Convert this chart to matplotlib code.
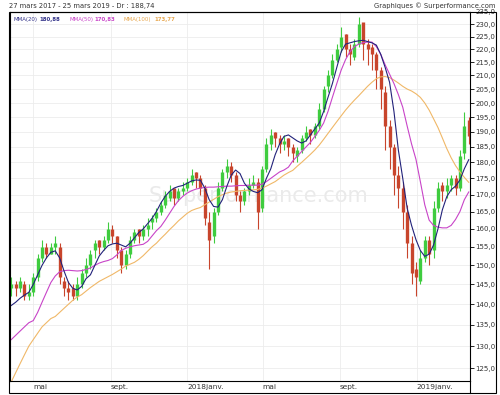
import numpy as np
import pandas as pd
import matplotlib
matplotlib.use('Agg')
import matplotlib.pyplot as plt
from matplotlib.patches import Rectangle
from matplotlib.lines import Line2D
from matplotlib.ticker import FixedLocator, FuncFormatter, NullLocator

# weekly bars, 27 mars 2017 -> 25 mars 2019
weeks = pd.date_range('2017-03-27', '2019-03-25', freq='W-MON')

opens = [144, 145, 144, 145, 142, 143, 147, 152, 155, 153,
         155, 155, 146, 144, 144, 142, 145, 148, 150, 154,
         157, 155, 157, 160, 158, 154, 150, 153, 157, 160,
         158, 160, 162, 163, 165, 167, 169, 172, 169, 171,
         172, 174, 177, 175, 172, 162, 158, 165, 172, 177,
         179, 176, 170, 168, 171, 173, 174, 166, 178, 186,
         190, 188, 186, 188, 185, 182, 184, 188, 191, 189,
         192, 198, 206, 210, 216, 221, 226, 220, 217, 222,
         231, 222, 221, 218, 212, 204, 192, 185, 176, 172,
         165, 156, 149, 146, 152, 157, 154, 166, 173, 171,
         173, 175, 172, 183, 194]
highs = [147, 146, 147, 146, 145, 148, 153, 157, 156, 156,
         158, 156, 147, 146, 145, 147, 149, 152, 154, 157,
         157, 158, 162, 161, 158, 155, 154, 158, 160, 160,
         161, 163, 164, 166, 168, 171, 173, 172, 172, 174,
         175, 178, 177, 176, 173, 165, 166, 174, 178, 181,
         180, 177, 171, 172, 175, 176, 175, 179, 188, 191,
         190, 189, 189, 188, 186, 185, 189, 192, 191, 193,
         200, 206, 212, 218, 222, 229, 226, 222, 224, 233,
         230, 224, 222, 219, 213, 206, 194, 186, 179, 174,
         167, 158, 151, 154, 158, 158, 168, 174, 174, 175,
         176, 176, 184, 197, 195]
lows = [142, 142, 143, 141, 141, 142, 146, 151, 152, 153,
        153, 145, 142, 141, 141, 141, 144, 147, 149, 152,
        153, 154, 156, 156, 152, 148, 149, 152, 156, 156,
        157, 158, 160, 162, 164, 166, 168, 167, 168, 170,
        171, 173, 172, 170, 161, 149, 156, 164, 171, 175,
        174, 168, 165, 167, 170, 172, 160, 165, 177, 184,
        185, 183, 184, 182, 180, 180, 183, 187, 186, 188,
        191, 197, 204, 209, 215, 219, 217, 214, 216, 221,
        216, 214, 212, 205, 198, 184, 178, 170, 166, 160,
        152, 145, 142, 145, 151, 150, 152, 165, 168, 169,
        171, 170, 171, 181, 186]
closes = [145, 144, 146, 142, 143, 147, 152, 155, 153, 155,
          156, 147, 144, 143, 142, 145, 148, 150, 153, 156,
          155, 157, 160, 158, 154, 150, 153, 157, 159, 158,
          160, 161, 163, 165, 167, 170, 171, 169, 171, 172,
          174, 176, 175, 172, 163, 157, 165, 172, 177, 179,
          176, 170, 168, 171, 173, 174, 165, 178, 186, 189,
          188, 186, 187, 185, 183, 184, 188, 190, 189, 192,
          198, 205, 210, 216, 220, 225, 220, 218, 222, 230,
          222, 220, 218, 212, 205, 192, 185, 176, 172, 165,
          156, 148, 147, 152, 157, 153, 166, 172, 171, 173,
          175, 172, 182, 192, 188.74]

mma20 = [139.7, 140.5, 141.5, 142.3, 143, 145, 147.5, 150, 152, 153.5,
         153.9, 152, 148.5, 145.5, 144, 143.6, 144.5, 146.5, 147.5, 150,
         152.5, 154, 155.3, 155.8, 156, 155.5, 155, 156, 157.5, 159,
         160, 161.5, 163, 165, 167.5, 169.5, 171, 172, 172.5, 172.8,
         173.5, 174.2, 174.5, 174.4, 172, 168.5, 166.5, 166.3, 168.5, 172.5,
         176, 177.6, 176.5, 173.5, 171.8, 171, 170.6, 171.5, 175, 178,
         182.5, 186, 188.5, 189, 188, 187, 186.3, 187, 189, 191,
         193, 197, 202, 207, 213, 219, 222, 222.5, 223, 223.3,
         223.5, 223, 222.5, 221.6, 218, 213, 207.5, 197, 184, 175,
         166, 161, 157, 154, 152.4, 153, 155.5, 160, 165.5, 169.4,
         171.5, 172.6, 174.5, 178, 180.88]
mma50 = [131.5, 132.5, 133.5, 134.5, 135.5, 136, 138, 140.5, 143, 145.5,
         147.2, 148.3, 148.6, 148.7, 148.6, 148.5, 148.6, 148.9, 149.3, 150,
         150.6, 151, 151.3, 151.8, 152.8, 154, 154.6, 155, 155.3, 155.5,
         155.7, 156.5, 158, 159.5, 160.7, 162.5, 164.5, 166.5, 168.2, 169.5,
         170.5, 171.2, 171.7, 172, 172.2, 172.3, 172.3, 172.4, 172.5, 172.6,
         172.6, 172.7, 172.8, 172.8, 172.9, 172.9, 172.9, 173.2, 174, 175,
         176, 177, 177.6, 178.5, 180.5, 182, 183.5, 185, 186.5, 188.5,
         190.5, 193, 197, 202, 207, 212, 216, 219, 221, 222,
         222.6, 222.8, 222.8, 221, 218, 214, 210.5, 207, 203, 198.5,
         192, 186, 181, 174, 167, 162.5, 161, 160.5, 160.3, 160.3,
         161, 162.7, 165, 168.5, 170.83]
mma100 = [122, 124, 126, 128, 130, 131.5, 133, 134.5, 135.5, 136.5,
          137, 138, 139, 140, 141, 141.8, 142.4, 143.3, 144.2, 145,
          145.8, 146.4, 147, 147.6, 148.3, 149, 149.8, 150.3, 150.8, 151.6,
          152.6, 153.8, 155, 156, 157.3, 158.5, 159.8, 161, 162.3, 163.4,
          164.5, 165.3, 165.8, 166.2, 167, 167.8, 168.6, 169.4, 170, 170.5,
          170.8, 171, 171.2, 171.3, 171.4, 171.5, 171.6, 172, 172.6, 173.3,
          174, 175, 176, 176.8, 177.5, 178.8, 180, 181.3, 182.6, 184,
          185.6, 187.5, 189.5, 191.5, 193.5, 195.5, 197.5, 199.3, 201, 202.6,
          204.3, 206, 207.5, 208.8, 209.5, 209.6, 209.2, 208.3, 207.2, 206,
          205, 204.3, 203.3, 202, 200, 197.5, 194.5, 191.5, 188, 184.5,
          181.5, 179, 177, 175.3, 173.77]

month_ticks = ['2017-05-01', '2017-09-01', '2018-01-01', '2018-05-01', '2018-09-01', '2019-01-01']
month_labels = ['mai', 'sept.', '2018janv.', 'mai', 'sept.', '2019janv.']
price_ticks = np.arange(125, 236, 5)

W, H = 500, 395
def box(x0, y0, x1, y1):
    return [x0 / W, 1 - y1 / H, (x1 - x0) / W, (y1 - y0) / H]

fig = plt.figure(figsize=(5, 3.95), dpi=100)
ax = fig.add_axes(box(10, 12, 470, 381))

opens = np.array(opens, float)
closes = np.array(closes, float)
up = closes >= opens
cols = np.where(up, '#3fcc3f', '#c8452c')
ax.vlines(weeks, lows, highs, colors=cols, lw=0.8)
ax.vlines(weeks, np.minimum(opens, closes), np.maximum(opens, closes), colors=cols, lw=2.4)

ax.plot(weeks, mma100, color='#f0b868', lw=0.8)
ax.plot(weeks, mma50, color='#c844c8', lw=0.8)
ax.plot(weeks, mma20, color='#22227a', lw=0.8)

ax.set_yscale('log')
ax.set_ylim(122.2, 235)
ax.set_xlim(pd.Timestamp('2017-03-25'), pd.Timestamp('2019-03-27'))

ax.yaxis.tick_right()
ax.yaxis.set_major_locator(FixedLocator(price_ticks))
ax.yaxis.set_major_formatter(FuncFormatter(lambda v, p: f'{v:.1f}'.replace('.', ',')))
ax.yaxis.set_minor_locator(NullLocator())
ax.tick_params(axis='y', direction='out', length=3, width=0.6, pad=1, labelsize=5, labelcolor='#333333')

ax.set_xticks(pd.to_datetime(month_ticks))
ax.set_xticklabels(month_labels, ha='left')
ax.tick_params(axis='x', length=0, pad=2.5, labelsize=5.3, labelcolor='#333333')

ax.grid(True, color='#ececec', lw=0.6)
ax.set_axisbelow(True)
for s in ax.spines.values():
    s.set_linewidth(0.8)

# watermark
ax.text(0.54, 0.5, 'Surperformance.com', transform=ax.transAxes, ha='center', va='center',
        fontsize=15, color='#eaeaea', zorder=0)

# legend line
leg_y = 1 - 19 / H
fig.text(13 / W, leg_y, 'MMA(20)', color='#33338a', fontsize=3.9, va='center')
fig.text(39 / W, leg_y, '180,88', color='#33338a', fontsize=3.9, va='center', weight='bold')
fig.text(69 / W, leg_y, 'MMA(50)', color='#c844c8', fontsize=3.9, va='center')
fig.text(94 / W, leg_y, '170,83', color='#c844c8', fontsize=3.9, va='center', weight='bold')
fig.text(124 / W, leg_y, 'MMA(100)', color='#e8a850', fontsize=3.9, va='center')
fig.text(154 / W, leg_y, '173,77', color='#e8a850', fontsize=3.9, va='center', weight='bold')

fig.text(9 / W, 1 - 6 / H, '27 mars 2017 - 25 mars 2019 - Dr : 188,74', fontsize=4.9, va='center', color='#333333')
fig.text(496 / W, 1 - 6 / H, 'Graphiques \u00a9 Surperformance.com', fontsize=4.9, va='center', ha='right', color='#333333')

# outer frame
fig.add_artist(Rectangle((9 / W, 1 - 393 / H), 487 / W, 381 / H, transform=fig.transFigure,
                         fill=False, lw=0.8, ec='black'))
fig.add_artist(Line2D([470 / W, 470 / W], [1 - 381 / H, 1 - 393 / H], transform=fig.transFigure,
                      lw=0.8, color='black'))

fig.savefig('out.png', dpi=100)
